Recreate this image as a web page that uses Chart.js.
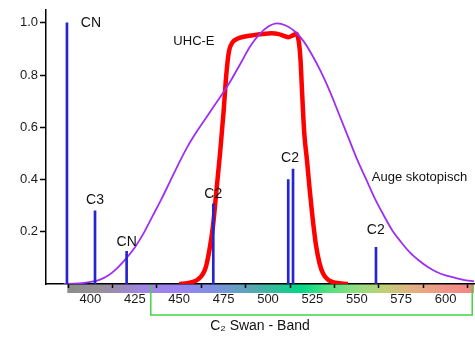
<!DOCTYPE html>
<html>
<head>
<meta charset="utf-8">
<script src="https://cdn.jsdelivr.net/npm/chart.js@4/dist/chart.umd.min.js"></script>
<style>
  html, body { margin: 0; padding: 0; background: #fff; }
  #wrap { width: 475px; height: 339px; }
</style>
</head>
<body>
<div id="wrap"><canvas id="chart"></canvas></div>
<script>
// Empfindlichkeit des dunkeladaptierten Auges (skotopisch)
const eyeNm  = [385, 390, 395, 400, 405, 410, 415, 420, 425, 430, 435, 440, 445, 450, 455, 460, 465, 470, 475, 480,
                485, 490, 495, 500, 505, 510, 515, 520, 525, 530, 535, 540, 545, 550, 555, 560, 565, 570, 575, 580,
                585, 590, 595, 600, 605, 610, 616];
const eyeVal = [0, 0.001, 0.003, 0.008, 0.016, 0.033, 0.06, 0.097, 0.14, 0.195, 0.26, 0.325, 0.395, 0.465, 0.53, 0.585,
                0.635, 0.685, 0.735, 0.79, 0.85, 0.91, 0.955, 0.985, 0.998, 0.99, 0.968, 0.93, 0.875, 0.81, 0.735, 0.65,
                0.565, 0.48, 0.405, 0.33, 0.265, 0.205, 0.16, 0.12, 0.09, 0.065, 0.046, 0.033, 0.024, 0.016, 0.01];

// Transmission UHC-E Filter
const filterNm  = [450, 455, 460, 463, 465, 467, 469, 471, 473, 475, 476.5, 478, 480, 483, 487, 492, 497, 502, 506, 509,
                   511.5, 514, 516, 517.3, 518.3, 519.3, 520.4, 522, 523.5, 525, 527, 529, 531, 534, 538, 545];
const filterVal = [0, 0.004, 0.015, 0.035, 0.065, 0.13, 0.22, 0.36, 0.5, 0.66, 0.8, 0.89, 0.925, 0.94, 0.948, 0.953,
                   0.957, 0.96, 0.957, 0.95, 0.945, 0.952, 0.958, 0.93, 0.86, 0.72, 0.58, 0.47, 0.36, 0.26, 0.15, 0.08,
                   0.04, 0.015, 0.005, 0];

// Emissionslinien
const lineNm  = [386.8, 402.6, 420.4, 469.2, 511.4, 514.1, 560.8];
const lineVal = [1.0, 0.28, 0.125, 0.307, 0.40, 0.44, 0.14];

// Beschriftungen (Text, Wellenlänge, Höhe)
const notes = [
  { text: "CN", nm: 400.3, val: 1.0 },
  { text: "C3", nm: 402.6, val: 0.32 },
  { text: "CN", nm: 420.4, val: 0.162 },
  { text: "UHC-E", nm: 458.3, val: 0.928 },
  { text: "C2", nm: 469.2, val: 0.345 },
  { text: "C2", nm: 512.4, val: 0.483 },
  { text: "Auge skotopisch", nm: 585.3, val: 0.409 },
  { text: "C2", nm: 560.7, val: 0.208 }
];

const xTicks = [400, 425, 450, 475, 500, 525, 550, 575, 600];
const yTicks = [0.2, 0.4, 0.6, 0.8, 1.0];
const swanBand = [434, 615];

// Farbverlauf unter der Achse
const spectrum = [
  [387, "#8c8c8c"], [405, "#969096"], [430, "#a084e6"], [450, "#9c82f0"], [470, "#7c90e0"],
  [490, "#5aa6b4"], [510, "#1ec890"], [518, "#00d888"], [532, "#48e080"], [550, "#92de80"],
  [565, "#bcd078"], [580, "#e2b280"], [600, "#f09488"], [616, "#f28484"]
];

const decor = {
  id: "decor",
  beforeDraw(chart) {
    const ctx = chart.ctx, x = chart.scales.x, area = chart.chartArea;
    const x0 = x.getPixelForValue(spectrum[0][0]);
    const x1 = x.getPixelForValue(spectrum[spectrum.length - 1][0]);
    const grad = ctx.createLinearGradient(x0, 0, x1, 0);
    spectrum.forEach(s => grad.addColorStop((x.getPixelForValue(s[0]) - x0) / (x1 - x0), s[1]));
    ctx.save();
    ctx.fillStyle = grad;
    ctx.fillRect(x0, area.bottom, x1 - x0, 9);
    ctx.restore();
  },
  afterDraw(chart) {
    const ctx = chart.ctx, x = chart.scales.x, y = chart.scales.y, area = chart.chartArea;
    // Klammer C2 Swan-Band
    const bl = x.getPixelForValue(swanBand[0]), br = x.getPixelForValue(swanBand[1]);
    ctx.save();
    ctx.strokeStyle = "#44d444";
    ctx.lineWidth = 1.5;
    ctx.beginPath();
    ctx.moveTo(bl, area.bottom + 1);
    ctx.lineTo(bl, area.bottom + 31);
    ctx.lineTo(br, area.bottom + 31);
    ctx.lineTo(br, area.bottom + 1);
    ctx.stroke();
    // Texte
    ctx.fillStyle = "#111";
    ctx.textAlign = "center";
    ctx.textBaseline = "middle";
    notes.forEach(n => {
      ctx.font = (n.text.length > 2 ? 13 : 14) + "px Arial, 'Liberation Sans', sans-serif";
      ctx.fillText(n.text, x.getPixelForValue(n.nm), y.getPixelForValue(n.val));
    });
    ctx.restore();
  }
};

new Chart(document.getElementById("chart"), {
  type: "line",
  data: {
    datasets: [
      {
        type: "bar",
        data: lineNm.map((v, i) => ({ x: v, y: lineVal[i] })),
        backgroundColor: "#2424d0",
        barThickness: 2,
        grouped: false
      },
      {
        data: eyeNm.map((v, i) => ({ x: v, y: eyeVal[i] })),
        borderColor: "#9d2ff5",
        borderWidth: 1.8,
        pointRadius: 0,
        cubicInterpolationMode: "monotone"
      },
      {
        data: filterNm.map((v, i) => ({ x: v, y: filterVal[i] })),
        borderColor: "#ff0000",
        borderWidth: 4.5,
        pointRadius: 0,
        cubicInterpolationMode: "monotone"
      }
    ]
  },
  options: {
    responsive: true,
    maintainAspectRatio: false,
    animation: false,
    layout: { padding: { left: 0, top: 5, right: 1, bottom: 0 } },
    plugins: { legend: { display: false }, tooltip: { enabled: false } },
    scales: {
      x: {
        type: "linear",
        min: 375,
        max: 616,
        offset: false,
        afterBuildTicks: s => { s.ticks = xTicks.map(v => ({ value: v })); },
        afterFit: s => { s.height = 55; },
        grid: { drawOnChartArea: false, tickLength: 4, color: "#000", tickWidth: 1.5 },
        border: { color: "#000", width: 1.5 },
        ticks: { padding: 4, color: "#1a1a1a", font: { size: 13, family: "Arial, 'Liberation Sans', sans-serif" } },
        title: {
          display: true,
          text: "C\u2082 Swan - Band",
          color: "#111",
          padding: { top: 0, bottom: 4 },
          font: { size: 14, family: "Arial, 'Liberation Sans', sans-serif" }
        }
      },
      y: {
        min: 0,
        max: 1.05,
        afterBuildTicks: s => { s.ticks = yTicks.map(v => ({ value: v })); },
        afterFit: s => { s.width = 46; },
        grid: { drawOnChartArea: false, tickLength: 6, color: "#000", tickWidth: 1.5 },
        border: { color: "#000", width: 1.5 },
        ticks: {
          padding: 2,
          color: "#1a1a1a",
          font: { size: 13, family: "Arial, 'Liberation Sans', sans-serif" },
          callback: v => v.toFixed(1)
        }
      }
    }
  },
  plugins: [decor]
});
</script>
</body>
</html>
